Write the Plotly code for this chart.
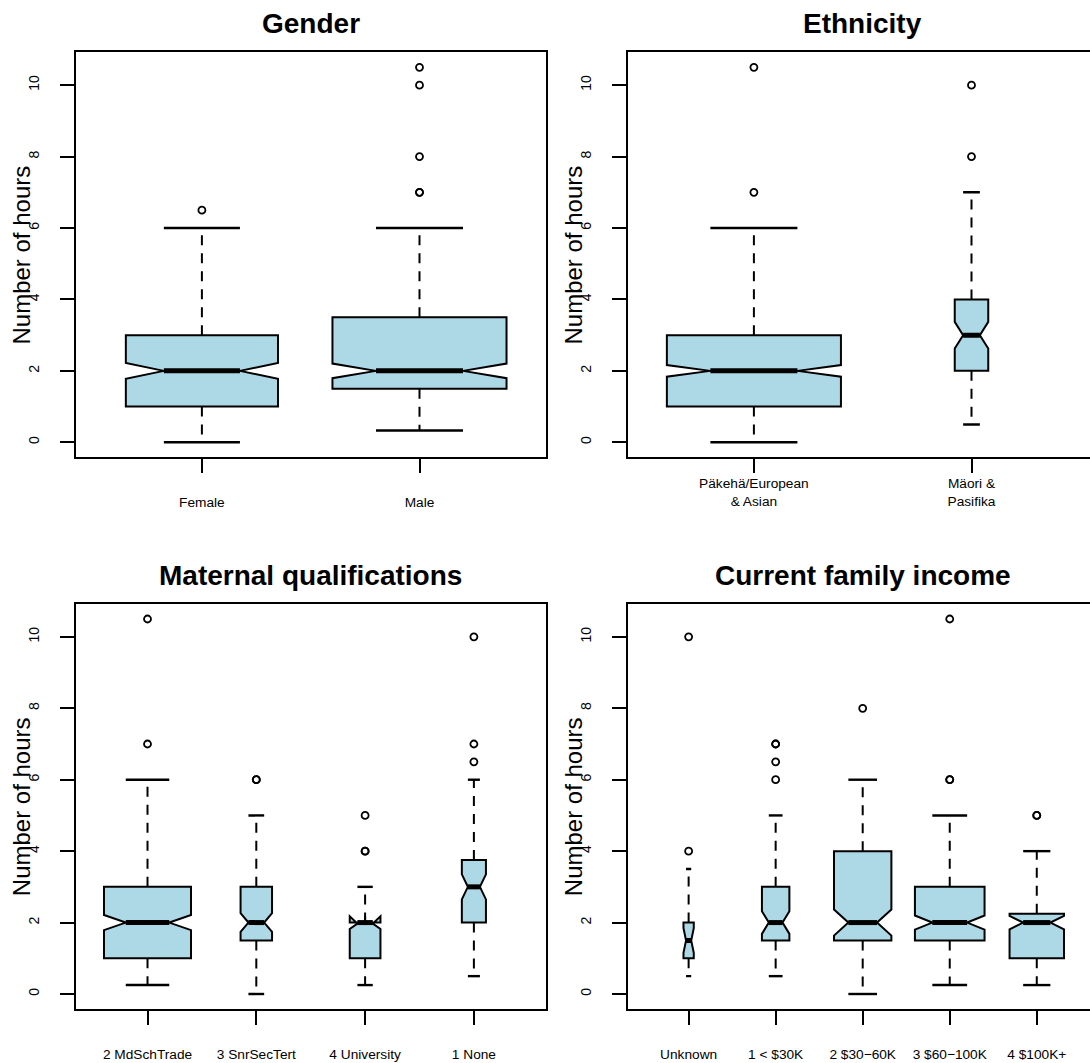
import plotly.graph_objects as go

# ---- data: five-number summaries, group sizes and outlying values ----
gender_labels = ["Female", "Male"]
gender_n = [208, 238]
gender_lower = [0.0, 0.33]
gender_q1 = [1.0, 1.5]
gender_median = [2.0, 2.0]
gender_q3 = [3.0, 3.5]
gender_upper = [6.0, 6.0]
gender_outliers = [[6.5], [7, 7, 8, 10, 10.5]]

ethnic_labels = ["Päkehä/European<br>& Asian", "Mäori &<br>Pasifika"]
ethnic_n = [374, 72]
ethnic_lower = [0.0, 0.5]
ethnic_q1 = [1.0, 2.0]
ethnic_median = [2.0, 3.0]
ethnic_q3 = [3.0, 4.0]
ethnic_upper = [6.0, 7.0]
ethnic_outliers = [[7, 10.5], [8, 10]]

matqual_labels = ["2 MdSchTrade", "3 SnrSecTert", "4 University", "1 None"]
matqual_n = [224, 81, 79, 62]
matqual_lower = [0.25, 0.0, 0.25, 0.5]
matqual_q1 = [1.0, 1.5, 1.0, 2.0]
matqual_median = [2.0, 2.0, 2.0, 3.0]
matqual_q3 = [3.0, 3.0, 2.0, 3.75]
matqual_upper = [6.0, 5.0, 3.0, 6.0]
matqual_outliers = [[7, 10.5], [6, 6], [4, 4, 5], [6.5, 7, 10]]

income_labels = ["Unknown", "1 &lt; $30K", "2 $30\u221260K", "3 $60\u2212100K", "4 $100K+"]
income_n = [21, 56, 117, 142, 111]
income_lower = [0.5, 0.5, 0.0, 0.25, 0.25]
income_q1 = [1.0, 1.5, 1.5, 1.5, 1.0]
income_median = [1.5, 2.0, 2.0, 2.0, 2.0]
income_q3 = [2.0, 3.0, 4.0, 3.0, 2.25]
income_upper = [3.5, 5.0, 6.0, 5.0, 4.0]
income_outliers = [[4, 10], [6, 6.5, 7, 7], [8], [6, 6, 10.5], [5, 5]]

# ---- page geometry (pixels) ----
W, H = 1090, 1063
FONT = "Liberation Sans, Arial, Helvetica, sans-serif"
FILL = "#ADD8E6"
LEFT_X = (75.7, 545.7)
RIGHT_X = (627.7, 1097.7)
TOP_Y = (52.3, 457.3)
BOTTOM_Y = (604.0, 1009.0)

panels = [
    dict(title="Gender", labels=gender_labels, n=gender_n, lower=gender_lower,
         q1=gender_q1, med=gender_median, q3=gender_q3, upper=gender_upper,
         out=gender_outliers, px=LEFT_X, py=TOP_Y, standoff=17),
    dict(title="Ethnicity", labels=ethnic_labels, n=ethnic_n, lower=ethnic_lower,
         q1=ethnic_q1, med=ethnic_median, q3=ethnic_q3, upper=ethnic_upper,
         out=ethnic_outliers, px=RIGHT_X, py=TOP_Y, standoff=-2),
    dict(title="Maternal qualifications", labels=matqual_labels, n=matqual_n,
         lower=matqual_lower, q1=matqual_q1, med=matqual_median, q3=matqual_q3,
         upper=matqual_upper, out=matqual_outliers, px=LEFT_X, py=BOTTOM_Y, standoff=18),
    dict(title="Current family income", labels=income_labels, n=income_n,
         lower=income_lower, q1=income_q1, med=income_median, q3=income_q3,
         upper=income_upper, out=income_outliers, px=RIGHT_X, py=BOTTOM_Y, standoff=18),
]

fig = go.Figure()
layout = dict(width=W, height=H, autosize=False,
              margin=dict(l=0, r=0, t=0, b=0, pad=0),
              paper_bgcolor="white", plot_bgcolor="white",
              boxmode="overlay", showlegend=False,
              font=dict(family=FONT, color="black"),
              annotations=[])

for i, p in enumerate(panels):
    k = len(p["labels"])
    suffix = "" if i == 0 else str(i + 1)
    xa, ya = "x" + suffix, "y" + suffix
    pos = list(range(1, k + 1))
    maxn = max(p["n"])
    widths = [0.8 * n / maxn for n in p["n"]]
    notch = [1.58 * (q3 - q1) / n ** 0.5 for q1, q3, n in zip(p["q1"], p["q3"], p["n"])]

    # notched boxes (whiskers are drawn separately as dashed lines)
    for j in range(k):
        fig.add_trace(go.Box(
            x=[pos[j]], q1=[p["q1"][j]], median=[p["med"][j]], q3=[p["q3"][j]],
            lowerfence=[p["q1"][j]], upperfence=[p["q3"][j]],
            notchspan=[notch[j]], notched=True, notchwidth=0.25,
            width=widths[j], whiskerwidth=0, boxpoints=False,
            fillcolor=FILL, line=dict(color="black", width=2),
            hoverinfo="skip", xaxis=xa, yaxis=ya))

    wx, wy, cx, cy, mx, my, ox, oy = [], [], [], [], [], [], [], []
    for j in range(k):
        x, w = pos[j], widths[j]
        wx += [x, x, None, x, x, None]
        wy += [p["q3"][j], p["upper"][j], None, p["q1"][j], p["lower"][j], None]
        cx += [x - w / 4, x + w / 4, None, x - w / 4, x + w / 4, None]
        cy += [p["upper"][j], p["upper"][j], None, p["lower"][j], p["lower"][j], None]
        mx += [x - w / 4, x + w / 4, None]
        my += [p["med"][j], p["med"][j], None]
        for v in p["out"][j]:
            ox.append(x)
            oy.append(v)

    fig.add_trace(go.Scatter(x=wx, y=wy, mode="lines", hoverinfo="skip",
                             line=dict(color="black", width=2, dash="10px,8px"),
                             xaxis=xa, yaxis=ya))
    fig.add_trace(go.Scatter(x=cx, y=cy, mode="lines", hoverinfo="skip",
                             line=dict(color="black", width=2.4),
                             xaxis=xa, yaxis=ya))
    fig.add_trace(go.Scatter(x=mx, y=my, mode="lines", hoverinfo="skip",
                             line=dict(color="black", width=5),
                             xaxis=xa, yaxis=ya))
    fig.add_trace(go.Scatter(x=ox, y=oy, mode="markers", hoverinfo="skip",
                             marker=dict(symbol="circle-open", size=7, color="black",
                                         line=dict(width=1.8, color="black")),
                             xaxis=xa, yaxis=ya))

    # axis ranges extended by 4% as in the classic boxplot
    xlo, xhi = 0.5 - 0.04 * k, k + 0.5 + 0.04 * k
    allv = p["lower"] + p["upper"] + [v for o in p["out"] for v in o]
    vlo, vhi = min(allv), max(allv)
    ylo, yhi = vlo - 0.04 * (vhi - vlo), vhi + 0.04 * (vhi - vlo)

    px0, px1 = p["px"]
    right_px = min(px1, W)
    xhi_vis = xlo + (right_px - px0) / (px1 - px0) * (xhi - xlo)
    clipped = px1 > W
    py0, py1 = p["py"]

    common = dict(showgrid=False, zeroline=False, showline=True, linecolor="black",
                  linewidth=2, ticks="outside", ticklen=14, tickwidth=2,
                  tickcolor="black")
    layout["xaxis" + suffix] = dict(
        domain=[px0 / W, right_px / W], range=[xlo, xhi_vis],
        tickmode="array", tickvals=pos, ticktext=p["labels"],
        tickfont=dict(size=13.7, family=FONT, color="black"),
        anchor=ya, mirror=True, ticklabelstandoff=p["standoff"], **common)
    layout["yaxis" + suffix] = dict(
        domain=[1 - py1 / H, 1 - py0 / H], range=[ylo, yhi],
        tickmode="array", tickvals=[0, 2, 4, 6, 8, 10], tickangle=-90,
        tickfont=dict(size=14, family=FONT, color="black"),
        anchor=xa, mirror=not clipped, ticklabelstandoff=15, **common)

    # panel title and y-axis title
    layout["annotations"].append(dict(
        text="<b>" + p["title"] + "</b>", xref="paper", yref="paper",
        x=(px0 + px1) / 2 / W, y=1 - (py0 - 29) / H, xanchor="center", yanchor="middle",
        showarrow=False, font=dict(size=28, family=FONT, color="black")))
    layout["annotations"].append(dict(
        text="Number of hours", xref="paper", yref="paper",
        x=(px0 - 54) / W, y=1 - (py0 + py1) / 2 / H, xanchor="center", yanchor="middle",
        textangle=-90, showarrow=False, font=dict(size=24, family=FONT, color="black")))

fig.update_layout(**layout)
fig.write_html("out.html")
